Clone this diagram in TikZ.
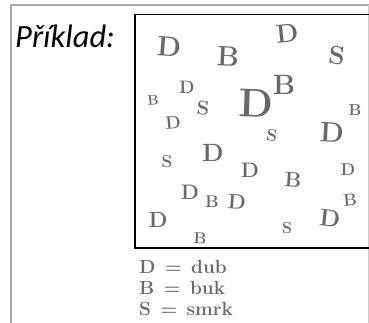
\documentclass[tikz,border=0pt]{standalone}
\usepackage{fontspec}
\newfontfamily\titlefont{Carlito}
\definecolor{hand}{RGB}{105,105,105}
\definecolor{framegray}{RGB}{170,170,170}
\tikzset{
  hw/.style={text=hand, inner sep=0pt, font=\bfseries\fontsize{#1}{#1}\selectfont},
  hw/.default=24,
  legend/.style={text=hand, inner sep=0pt, anchor=base west, font=\bfseries\fontsize{19}{19}\selectfont}
}
\begin{document}
\begin{tikzpicture}[x=1pt,y=-1pt]
\useasboundingbox (0,0) rectangle (369,322);
% outer gray frame
\draw[framegray, line width=1.6pt] (11,330) -- (11,5) -- (375,5);
\draw[framegray!60, line width=0.8pt] (368.5,5) -- (368.5,330);
% black box
\draw[black, line width=1.4pt] (135,14.5) rectangle (380,248);
% title
\node[anchor=base west, inner sep=0pt, font=\titlefont\itshape\fontsize{32.5}{32.5}\selectfont] (title) at (15,47) {Příklad:};
% handwritten letters
\node[hw=28, rotate=-4] (d1) at (169,47) {D};
\node[hw=28, rotate=-3] (b1) at (228,56) {B};
\node[hw=26, rotate=6] (d2) at (287,33) {D};
\node[hw=26, rotate=-6] (s1) at (337,55) {S};
\node[hw=18] (d3) at (187,87) {D};
\node[hw=14, rotate=5] (b2) at (153,100) {B};
\node[hw=20, rotate=-4] (s2) at (203,108) {S};
\node[hw=40, rotate=-2] (d4) at (256,103) {D};
\node[hw=28] (b3) at (284,85) {B};
\node[hw=16] (b4) at (355,110) {B};
\node[hw=18, rotate=5] (d5) at (173,123) {D};
\node[hw=17, rotate=-8] (s3) at (272,135) {S};
\node[hw=28, rotate=-3] (d6) at (332,133) {D};
\node[hw=17] (s4) at (167,162) {S};
\node[hw=25] (d7) at (213,153) {D};
\node[hw=21] (d8) at (250,170) {D};
\node[hw=21, rotate=-4] (b5) at (293,180) {B};
\node[hw=17] (d9) at (348,170) {D};
\node[hw=21] (d10) at (190,192) {D};
\node[hw=17] (b6) at (212,202) {B};
\node[hw=21, rotate=-4] (d11) at (237,202) {D};
\node[hw=17, rotate=6] (b7) at (350,200) {B};
\node[hw=22] (d12) at (158,220) {D};
\node[hw=16] (s5) at (287,228) {S};
\node[hw=24, rotate=-6] (d13) at (330,218) {D};
\node[hw=16, rotate=-3] (b8) at (200,238) {B};
% legend
\node[legend] (l1) at (139,273) {D\enspace=\enspace dub};
\node[legend] (l2) at (139,294) {B\enspace=\enspace buk};
\node[legend] (l3) at (139,315) {S\enspace=\enspace smrk};
\end{tikzpicture}
\end{document}
